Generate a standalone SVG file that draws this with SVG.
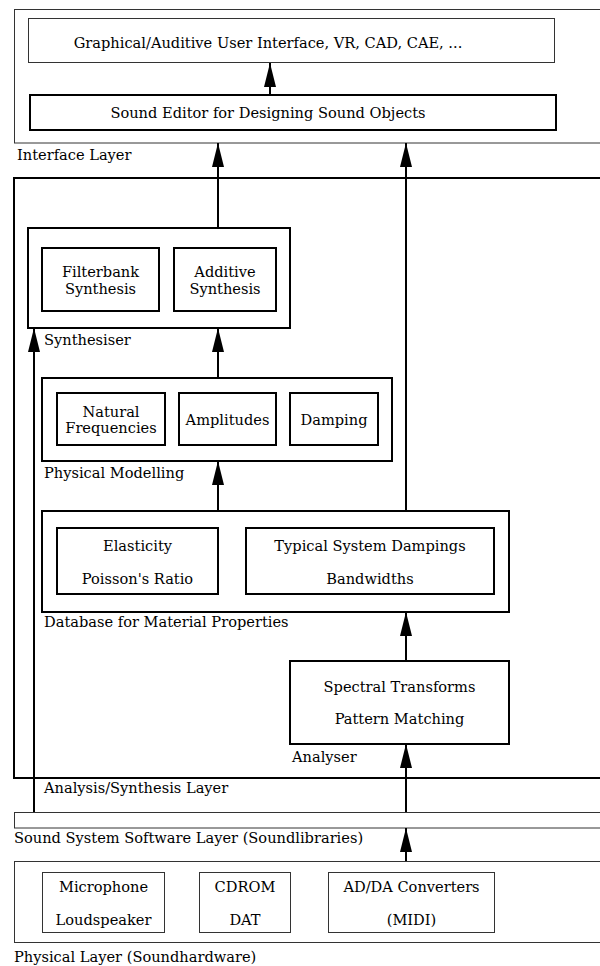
<svg xmlns="http://www.w3.org/2000/svg" width="600" height="966" viewBox="0 0 600 966">
<defs>
<marker id="ah" markerUnits="userSpaceOnUse" markerWidth="24" markerHeight="12" refX="24" refY="6" orient="auto" viewBox="0 0 24 12">
<path d="M0,0 L24,6 L0,12 z" fill="#000"/>
</marker>
<style>
.t{font-family:"DejaVu Serif","Liberation Serif",serif;font-size:14.6px;fill:#000}
.c{text-anchor:middle}
.thin{fill:none;stroke:#333;stroke-width:1}
.thick{fill:none;stroke:#000;stroke-width:2}
.conn line{stroke:#000;stroke-width:2;marker-end:url(#ah)}
</style>
</defs>
<rect width="600" height="966" fill="#fff"/>

<g id="interface-layer">
<rect class="thin" x="14.5" y="9.5" width="600" height="133.5"/>
<text class="t" x="17" y="160">Interface Layer</text>
</g>
<g id="gui">
<rect class="thin" x="28.5" y="18.5" width="526" height="44"/>
<text class="t c" x="268" y="48">Graphical/Auditive User Interface, VR, CAD, CAE, ...</text>
</g>
<g id="sound-editor">
<rect class="thick" x="30" y="95" width="526" height="35"/>
<text class="t c" x="268" y="118">Sound Editor for Designing Sound Objects</text>
</g>

<g id="analysis-synthesis-layer">
<rect class="thick" x="14" y="178" width="600" height="600"/>
<text class="t" x="44" y="793">Analysis/Synthesis Layer</text>
</g>
<g id="synthesiser">
<rect class="thick" x="28" y="228" width="262" height="100"/>
<text class="t" x="44" y="345">Synthesiser</text>
</g>
<g id="filterbank">
<rect class="thick" x="42" y="248" width="117" height="63"/>
<text class="t c" x="100.5" y="277">Filterbank</text>
<text class="t c" x="100.5" y="294">Synthesis</text>
</g>
<g id="additive">
<rect class="thick" x="174" y="248" width="102" height="63"/>
<text class="t c" x="225" y="277">Additive</text>
<text class="t c" x="225" y="294">Synthesis</text>
</g>
<g id="physical-modelling">
<rect class="thick" x="42" y="378" width="350" height="83"/>
<text class="t" x="44" y="478">Physical Modelling</text>
</g>
<g id="natural-frequencies">
<rect class="thick" x="57" y="393" width="108" height="52"/>
<text class="t c" x="111" y="417">Natural</text>
<text class="t c" x="111" y="433">Frequencies</text>
</g>
<g id="amplitudes">
<rect class="thick" x="179" y="393" width="97" height="52"/>
<text class="t c" x="227.5" y="425">Amplitudes</text>
</g>
<g id="damping">
<rect class="thick" x="290" y="393" width="88" height="52"/>
<text class="t c" x="334" y="425">Damping</text>
</g>
<g id="database">
<rect class="thick" x="42" y="511" width="467" height="101"/>
<text class="t" x="44" y="627">Database for Material Properties</text>
</g>
<g id="elasticity">
<rect class="thick" x="57" y="528" width="161" height="66"/>
<text class="t c" x="137.5" y="551">Elasticity</text>
<text class="t c" x="137.5" y="584">Poisson's Ratio</text>
</g>
<g id="dampings">
<rect class="thick" x="246" y="528" width="248" height="66"/>
<text class="t c" x="370" y="551">Typical System Dampings</text>
<text class="t c" x="370" y="584">Bandwidths</text>
</g>
<g id="analyser">
<rect class="thick" x="290" y="661" width="219" height="83"/>
<text class="t c" x="399.5" y="692">Spectral Transforms</text>
<text class="t c" x="399.5" y="724">Pattern Matching</text>
<text class="t" x="292" y="762">Analyser</text>
</g>

<g id="sound-system-layer">
<rect class="thin" x="14.5" y="812.5" width="600" height="15.5"/>
<text class="t" x="14" y="843">Sound System Software Layer (Soundlibraries)</text>
</g>
<g id="physical-layer">
<rect class="thin" x="14.5" y="861.5" width="600" height="81"/>
<text class="t" x="14" y="962">Physical Layer (Soundhardware)</text>
</g>
<g id="microphone">
<rect class="thin" x="42.5" y="872.5" width="122" height="60"/>
<text class="t c" x="103.5" y="892">Microphone</text>
<text class="t c" x="103.5" y="925">Loudspeaker</text>
</g>
<g id="cdrom">
<rect class="thin" x="199.5" y="872.5" width="91" height="60"/>
<text class="t c" x="245" y="892">CDROM</text>
<text class="t c" x="245" y="925">DAT</text>
</g>
<g id="adda">
<rect class="thin" x="328.5" y="872.5" width="166" height="60"/>
<text class="t c" x="411.5" y="892">AD/DA Converters</text>
<text class="t c" x="411.5" y="925">(MIDI)</text>
</g>

<g id="connectors" class="conn">
<line x1="270" y1="95" x2="270" y2="63"/>
<line x1="218" y1="228" x2="218" y2="143"/>
<line x1="406" y1="511" x2="406" y2="143"/>
<line x1="34" y1="812" x2="34" y2="328"/>
<line x1="218" y1="378" x2="218" y2="328"/>
<line x1="218" y1="511" x2="218" y2="461"/>
<line x1="406" y1="661" x2="406" y2="612"/>
<line x1="406" y1="812" x2="406" y2="744"/>
<line x1="406" y1="861" x2="406" y2="828"/>
</g>
</svg>
